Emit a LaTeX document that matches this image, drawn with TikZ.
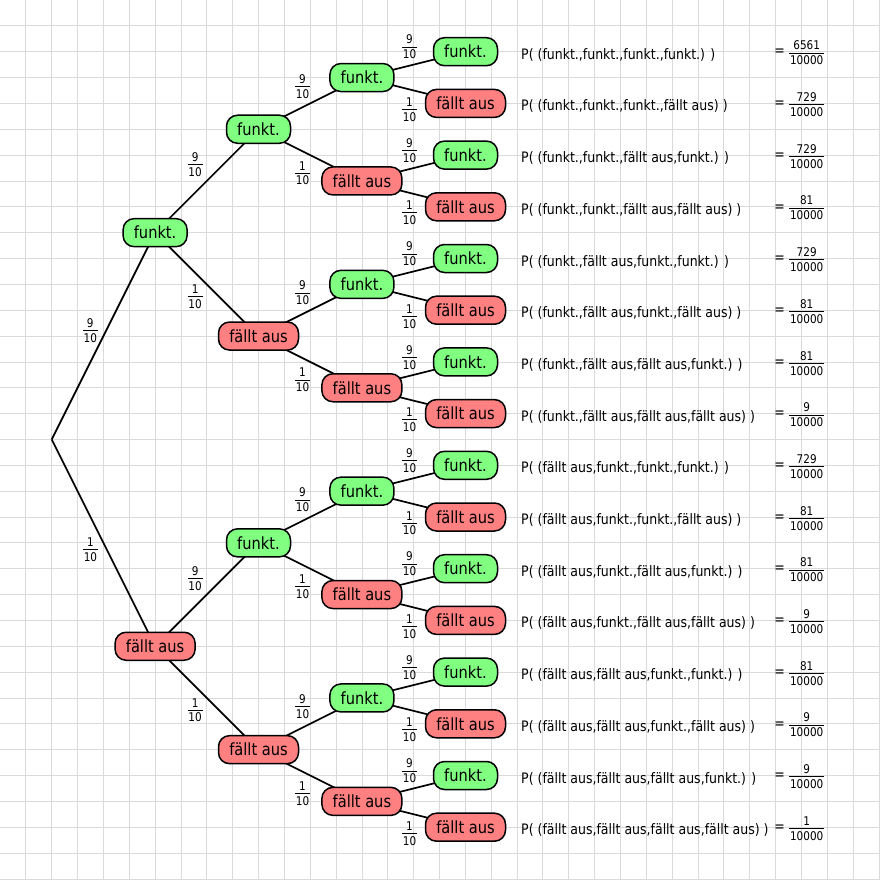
\documentclass[tikz,border=0pt]{standalone}
\usepackage{fontspec}
\setmainfont{DejaVu Sans}[FakeStretch=0.87]
\usetikzlibrary{backgrounds}
\definecolor{okgreen}{RGB}{128,255,128}
\definecolor{failred}{RGB}{255,128,128}
\definecolor{gridgray}{RGB}{218,218,218}
\newcommand\nodefont{\fontsize{16.8}{20}\selectfont}
\newcommand\pfont{\fontsize{14.4}{17}\selectfont}
\newcommand\fracfont{\fontsize{12}{14}\selectfont}
\newcommand\fr[2]{\vbox{\offinterlineskip\halign{\hskip0.8pt\hfil##\hfil\hskip0.8pt\cr#1\cr\noalign{\kern2.6pt\hrule height0.7pt\kern2.6pt}#2\cr}}}
\tikzset{
  treebox/.style={draw=black, line width=1.5pt, rounded corners=11pt, minimum height=28pt, inner sep=0pt, font=\nodefont},
  ok/.style={treebox, fill=okgreen, minimum width=64pt},
  fail/.style={treebox, fill=failred, minimum width=80pt},
  branch/.style={line width=1.7pt, draw=black},
  lab/.style={inner sep=0pt, font=\fracfont},
  gridline/.style={draw=gridgray, line width=0.8pt},
  ptext/.style={anchor=base west, inner sep=0pt, font=\pfont},
  eqs/.style={inner sep=0pt, font=\pfont},
}
\begin{document}
\begin{tikzpicture}[x=1pt,y=-1pt]
\useasboundingbox (0,0) rectangle (880,880);
% tree nodes
\coordinate (root) at (51.7,439.45);
\node[ok]   (A) at (155.1,232.65) {funkt.};
\node[fail] (B) at (155.1,646.25) {fällt aus};
\node[ok]   (AA) at (258.5,129.25) {funkt.};
\node[fail] (AB) at (258.5,336.05) {fällt aus};
\node[ok]   (BA) at (258.5,542.85) {funkt.};
\node[fail] (BB) at (258.5,749.65) {fällt aus};
\node[ok]   (AAA) at (361.9,77.55) {funkt.};
\node[fail] (AAB) at (361.9,180.95) {fällt aus};
\node[ok]   (ABA) at (361.9,284.35) {funkt.};
\node[fail] (ABB) at (361.9,387.75) {fällt aus};
\node[ok]   (BAA) at (361.9,491.15) {funkt.};
\node[fail] (BAB) at (361.9,594.55) {fällt aus};
\node[ok]   (BBA) at (361.9,697.95) {funkt.};
\node[fail] (BBB) at (361.9,801.35) {fällt aus};
\node[ok]   (AAAA) at (465.5,51.7) {funkt.};
\node[fail] (AAAB) at (465.5,103.4) {fällt aus};
\node[ok]   (AABA) at (465.5,155.1) {funkt.};
\node[fail] (AABB) at (465.5,206.8) {fällt aus};
\node[ok]   (ABAA) at (465.5,258.5) {funkt.};
\node[fail] (ABAB) at (465.5,310.2) {fällt aus};
\node[ok]   (ABBA) at (465.5,361.9) {funkt.};
\node[fail] (ABBB) at (465.5,413.6) {fällt aus};
\node[ok]   (BAAA) at (465.5,465.3) {funkt.};
\node[fail] (BAAB) at (465.5,517.0) {fällt aus};
\node[ok]   (BABA) at (465.5,568.7) {funkt.};
\node[fail] (BABB) at (465.5,620.4) {fällt aus};
\node[ok]   (BBAA) at (465.5,672.1) {funkt.};
\node[fail] (BBAB) at (465.5,723.8) {fällt aus};
\node[ok]   (BBBA) at (465.5,775.5) {funkt.};
\node[fail] (BBBB) at (465.5,827.2) {fällt aus};
% edge labels
\node[lab] (rootu) at (90.3,330.5) {\fr{9}{10}};
\node[lab] (rootl) at (90.5,550) {\fr{1}{10}};
\foreach \p in {A,B} {
  \node[lab] (\p-u) at ([shift={(40,-68)}]\p.center) {\fr{9}{10}};
  \node[lab] (\p-l) at ([shift={(40,64)}]\p.center) {\fr{1}{10}};
}
\foreach \p in {AA,AB,BA,BB} {
  \node[lab] (\p-u) at ([shift={(44,-43)}]\p.center) {\fr{9}{10}};
  \node[lab] (\p-l) at ([shift={(44,44)}]\p.center) {\fr{1}{10}};
}
\foreach \p in {AAA,AAB,ABA,ABB,BAA,BAB,BBA,BBB} {
  \node[lab] (\p-u) at ([shift={(47.6,-30.5)}]\p.center) {\fr{9}{10}};
  \node[lab] (\p-l) at ([shift={(47.6,32)}]\p.center) {\fr{1}{10}};
}
% probabilities
\foreach \i/\t/\n in {1/{funkt.,funkt.,funkt.,funkt.}/6561,
  2/{funkt.,funkt.,funkt.,fällt aus}/729,
  3/{funkt.,funkt.,fällt aus,funkt.}/729,
  4/{funkt.,funkt.,fällt aus,fällt aus}/81,
  5/{funkt.,fällt aus,funkt.,funkt.}/729,
  6/{funkt.,fällt aus,funkt.,fällt aus}/81,
  7/{funkt.,fällt aus,fällt aus,funkt.}/81,
  8/{funkt.,fällt aus,fällt aus,fällt aus}/9,
  9/{fällt aus,funkt.,funkt.,funkt.}/729,
  10/{fällt aus,funkt.,funkt.,fällt aus}/81,
  11/{fällt aus,funkt.,fällt aus,funkt.}/81,
  12/{fällt aus,funkt.,fällt aus,fällt aus}/9,
  13/{fällt aus,fällt aus,funkt.,funkt.}/81,
  14/{fällt aus,fällt aus,funkt.,fällt aus}/9,
  15/{fällt aus,fällt aus,fällt aus,funkt.}/9,
  16/{fällt aus,fällt aus,fällt aus,fällt aus}/1} {
  \pgfmathsetmacro\yy{2*\i*25.85}
  \node[ptext] (p\i) at (521,\yy+7.5) {P( (\t) )};
  \node[eqs] (e\i) at (779.5,\yy+1) {=};
  \node[lab] (f\i) at (806.7,\yy+1.3) {\fr{\n}{10000}};
}
% background: paper, grid, branches
\begin{scope}[on background layer]
  \fill[white] (0,0) rectangle (880,880);
  \foreach \k in {1,...,34} {
    \draw[gridline] (\k*25.85,0) -- (\k*25.85,880);
    \draw[gridline] (0,\k*25.85) -- (880,\k*25.85);
  }
  \foreach \c in {A,B} \draw[branch] (root) -- (\c.center);
  \foreach \p in {A,B,AA,AB,BA,BB,AAA,AAB,ABA,ABB,BAA,BAB,BBA,BBB} {
    \draw[branch] (\p.center) -- (\p A.center);
    \draw[branch] (\p.center) -- (\p B.center);
  }
\end{scope}
\end{tikzpicture}
\end{document}
